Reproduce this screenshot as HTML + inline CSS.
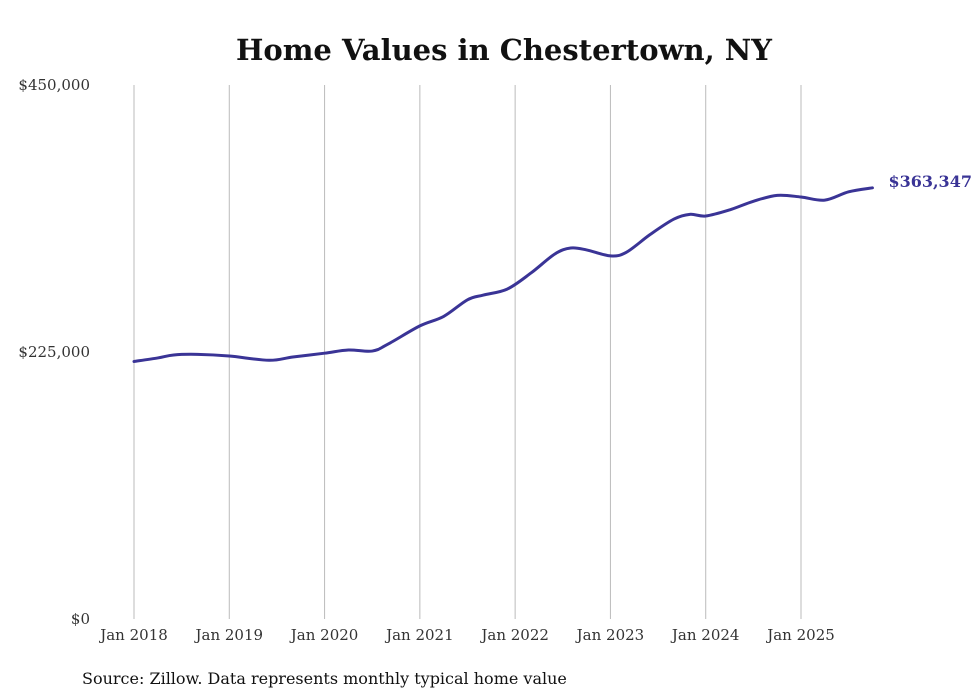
<!DOCTYPE html>
<html><head><meta charset="utf-8"><style>
body{margin:0;background:#fff;}
svg{display:block;font-family:"DejaVu Serif","Liberation Serif",serif;}
</style></head><body>
<svg id="chart" width="980" height="699">
<text x="504" y="60" text-anchor="middle" font-size="29" font-weight="bold" fill="#111">Home Values in Chestertown, NY</text>
<g id="grid"></g><g id="yaxis"></g><g id="xaxis"></g><g id="series"></g>
<text x="82" y="684" font-size="16" fill="#111">Source: Zillow. Data represents monthly typical home value</text>
</svg>
<script>
const monthIdx=[0,3,5,8,12,17,20,24,27,30,32,36,39,42,44,47,50,53,55,57,60,62,65,68,70,72,75,78,81,84,87,90,93];
const values=[217000,220000,222500,223000,221600,218000,220800,224000,226700,225800,231700,247000,255000,269000,273000,278000,291600,307600,312600,311000,306000,309000,324000,337000,341000,339600,344700,352000,357000,355600,353000,360000,363347];
const yTicks=[0,225000,450000];
const yTickLabels=["$0","$225,000","$450,000"];
const xTickYears=[2018,2019,2020,2021,2022,2023,2024,2025];
const xTickLabels=["Jan 2018","Jan 2019","Jan 2020","Jan 2021","Jan 2022","Jan 2023","Jan 2024","Jan 2025"];
const NS="http://www.w3.org/2000/svg";
const x0=134,pxPerMonth=(801-134)/84,yZero=619,yTop=85,yMax=450000;
const X=m=>x0+m*pxPerMonth;
const Y=v=>yZero-(v/yMax)*(yZero-yTop);
function mk(t,a,p){const e=document.createElementNS(NS,t);for(const k in a)e.setAttribute(k,a[k]);p.appendChild(e);return e;}
const grid=document.getElementById('grid'),xa=document.getElementById('xaxis'),ya=document.getElementById('yaxis'),se=document.getElementById('series');
xTickYears.forEach((yr,i)=>{const m=(yr-2018)*12;
 const l=mk('line',{x1:X(m),x2:X(m),y1:yTop,y2:yZero,stroke:'#bbb','stroke-width':1},grid);
 
 
 const t=mk('text',{x:X(m),y:640,'text-anchor':'middle','font-size':15,fill:'#333'},xa);t.textContent=xTickLabels[i];
 
 
});
yTicks.forEach((v,i)=>{const t=mk('text',{x:90,y:Y(v)+5,'text-anchor':'end','font-size':15,fill:'#333'},ya);t.textContent=yTickLabels[i];
 
 
});
const pts=monthIdx.map((m,i)=>[X(m),Y(values[i])]);
let d='M'+pts[0][0]+','+pts[0][1];
for(let i=0;i<pts.length-1;i++){const p0=pts[i-1]||pts[i],p1=pts[i],p2=pts[i+1],p3=pts[i+2]||p2;
 const c1=[p1[0]+(p2[0]-p0[0])/6,p1[1]+(p2[1]-p0[1])/6],c2=[p2[0]-(p3[0]-p1[0])/6,p2[1]-(p3[1]-p1[1])/6];
 d+=` C${c1[0]},${c1[1]} ${c2[0]},${c2[1]} ${p2[0]},${p2[1]}`;}
const path=mk('path',{d:d,fill:'none',stroke:'#3a3496','stroke-width':3,'stroke-linecap':'round'},se);


const last=pts[pts.length-1];
const lab=mk('text',{x:last[0]+16,y:last[1]-1,'font-size':16,'font-weight':'bold',fill:'#3a3496'},se);
lab.textContent='$'+values[values.length-1].toLocaleString('en-US');


</script>
</body></html>
